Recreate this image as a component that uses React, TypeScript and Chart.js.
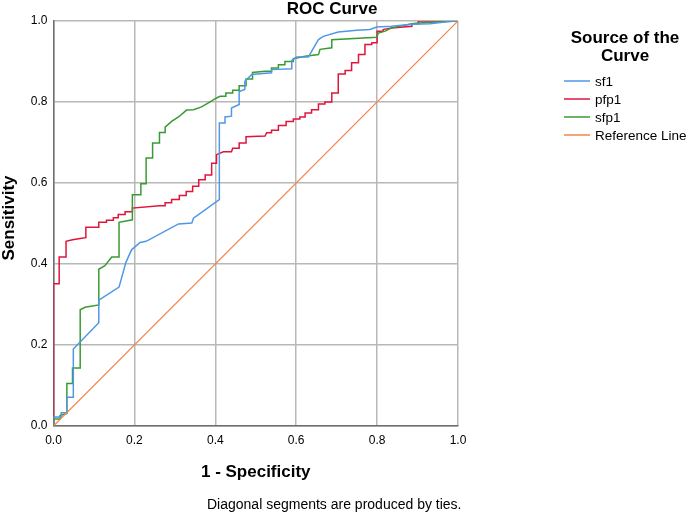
import React, { useEffect, useRef } from "react";
import { Chart, registerables } from "chart.js";

Chart.register(...registerables);

// ---- Data ----
const sf1X = [0, 0, 0.019, 0.019, 0.033, 0.033, 0.049, 0.049, 0.112, 0.112, 0.162, 0.179, 0.193, 0.214, 0.229, 0.309, 0.342, 0.346, 0.41, 0.41, 0.424, 0.424, 0.44, 0.44, 0.459, 0.459, 0.473, 0.473, 0.49, 0.539, 0.539, 0.589, 0.589, 0.601, 0.63, 0.638, 0.655, 0.667, 0.704, 0.75, 0.782, 0.799, 0.836, 0.886, 0.931, 0.988, 1];
const sf1Y = [0, 0.022, 0.022, 0.033, 0.033, 0.071, 0.071, 0.19, 0.255, 0.311, 0.343, 0.404, 0.435, 0.453, 0.456, 0.499, 0.501, 0.513, 0.559, 0.748, 0.748, 0.763, 0.765, 0.785, 0.794, 0.826, 0.831, 0.851, 0.868, 0.872, 0.88, 0.882, 0.903, 0.911, 0.911, 0.925, 0.954, 0.962, 0.973, 0.977, 0.979, 0.985, 0.987, 0.992, 0.993, 1, 1];

const pfp1X = [0, 0, 0.014, 0.014, 0.031, 0.031, 0.047, 0.066, 0.08, 0.08, 0.112, 0.112, 0.131, 0.131, 0.148, 0.148, 0.16, 0.16, 0.177, 0.177, 0.195, 0.195, 0.262, 0.276, 0.276, 0.292, 0.292, 0.311, 0.311, 0.328, 0.328, 0.344, 0.344, 0.359, 0.359, 0.375, 0.375, 0.391, 0.391, 0.403, 0.403, 0.42, 0.44, 0.443, 0.459, 0.459, 0.476, 0.476, 0.523, 0.527, 0.539, 0.539, 0.556, 0.556, 0.575, 0.575, 0.593, 0.593, 0.609, 0.609, 0.622, 0.622, 0.638, 0.638, 0.655, 0.655, 0.671, 0.671, 0.688, 0.688, 0.704, 0.704, 0.721, 0.721, 0.737, 0.737, 0.754, 0.754, 0.77, 0.77, 0.787, 0.787, 0.8, 0.8, 0.815, 0.815, 0.836, 0.886, 0.886, 0.902, 0.902, 1];
const pfp1Y = [0, 0.351, 0.351, 0.417, 0.417, 0.456, 0.46, 0.463, 0.465, 0.491, 0.491, 0.503, 0.503, 0.508, 0.508, 0.514, 0.514, 0.522, 0.522, 0.529, 0.529, 0.538, 0.544, 0.544, 0.551, 0.551, 0.559, 0.559, 0.569, 0.569, 0.579, 0.579, 0.592, 0.592, 0.608, 0.608, 0.62, 0.62, 0.649, 0.649, 0.67, 0.677, 0.677, 0.686, 0.686, 0.699, 0.699, 0.714, 0.716, 0.724, 0.724, 0.73, 0.73, 0.742, 0.742, 0.752, 0.752, 0.758, 0.758, 0.763, 0.763, 0.773, 0.773, 0.781, 0.781, 0.795, 0.795, 0.8, 0.8, 0.822, 0.822, 0.869, 0.869, 0.878, 0.878, 0.897, 0.897, 0.917, 0.917, 0.942, 0.942, 0.946, 0.946, 0.975, 0.975, 0.979, 0.983, 0.987, 0.993, 0.993, 1, 1];

const sfp1X = [0, 0, 0.016, 0.016, 0.033, 0.033, 0.047, 0.047, 0.066, 0.066, 0.078, 0.112, 0.112, 0.127, 0.144, 0.162, 0.162, 0.195, 0.195, 0.216, 0.216, 0.229, 0.229, 0.245, 0.245, 0.262, 0.262, 0.276, 0.276, 0.292, 0.309, 0.329, 0.346, 0.366, 0.383, 0.403, 0.412, 0.426, 0.426, 0.443, 0.443, 0.459, 0.459, 0.476, 0.476, 0.492, 0.492, 0.523, 0.539, 0.539, 0.556, 0.556, 0.572, 0.572, 0.593, 0.593, 0.622, 0.655, 0.659, 0.688, 0.688, 0.799, 0.803, 0.82, 0.836, 0.886, 0.902, 1];
const sfp1Y = [0, 0.017, 0.017, 0.026, 0.031, 0.105, 0.105, 0.143, 0.143, 0.287, 0.293, 0.299, 0.387, 0.396, 0.417, 0.417, 0.503, 0.509, 0.571, 0.571, 0.598, 0.598, 0.662, 0.662, 0.699, 0.699, 0.725, 0.725, 0.738, 0.752, 0.763, 0.78, 0.781, 0.788, 0.798, 0.81, 0.814, 0.814, 0.822, 0.822, 0.829, 0.829, 0.84, 0.84, 0.857, 0.857, 0.873, 0.876, 0.876, 0.884, 0.884, 0.892, 0.892, 0.9, 0.9, 0.907, 0.913, 0.917, 0.93, 0.934, 0.954, 0.96, 0.97, 0.975, 0.983, 0.993, 0.995, 1];

const refX = [0, 1];
const refY = [0, 1];

const seriesNames = ["sf1", "pfp1", "sfp1", "Reference Line"];
const seriesColors = ["#4f98e8", "#e0143c", "#3a9a32", "#f5844a"];
const axisTicks = [0, 0.2, 0.4, 0.6, 0.8, 1.0];

const chartTitle = "ROC Curve";
const xTitle = "1 - Specificity";
const yTitle = "Sensitivity";
const legendTitle = ["Source of the", "Curve"];
const footnote = "Diagonal segments are produced by ties.";

const FONT = "Arial, 'Liberation Sans', sans-serif";

const toPts = (xs: number[], ys: number[]) => xs.map((x, i) => ({ x, y: ys[i] }));

const textPlugin = {
  id: "textPlugin",
  afterDraw(chart: any) {
    const ctx = chart.ctx as CanvasRenderingContext2D;
    const area = chart.chartArea;
    ctx.save();
    ctx.fillStyle = "#000";
    // Title
    ctx.font = `bold 17px ${FONT}`;
    ctx.textAlign = "center";
    ctx.textBaseline = "alphabetic";
    ctx.fillText(chartTitle, 332, 14);
    // X title
    ctx.fillText(xTitle, (area.left + area.right) / 2, 477);
    // Y title
    ctx.save();
    ctx.translate(9, 218);
    ctx.rotate(-Math.PI / 2);
    ctx.textBaseline = "middle";
    ctx.fillText(yTitle, 0, 0);
    ctx.restore();
    // Footnote
    ctx.font = `14px ${FONT}`;
    ctx.textAlign = "left";
    ctx.fillText(footnote, 207, 509);
    // Legend
    ctx.font = `bold 17px ${FONT}`;
    ctx.textAlign = "center";
    ctx.fillText(legendTitle[0], 625, 43);
    ctx.fillText(legendTitle[1], 625, 61);
    ctx.font = `13.5px ${FONT}`;
    ctx.textAlign = "left";
    ctx.textBaseline = "middle";
    seriesNames.forEach((name, i) => {
      const y = 81 + i * 18;
      ctx.strokeStyle = seriesColors[i];
      ctx.lineWidth = 1.5;
      ctx.beginPath();
      ctx.moveTo(564, y);
      ctx.lineTo(590, y);
      ctx.stroke();
      ctx.fillStyle = "#000";
      ctx.fillText(name, 595, y + 1);
    });
    ctx.restore();
  },
};

export default function App() {
  const ref = useRef<HTMLCanvasElement | null>(null);
  useEffect(() => {
    if (!ref.current) return;
    const series = [
      toPts(sf1X, sf1Y),
      toPts(pfp1X, pfp1Y),
      toPts(sfp1X, sfp1Y),
      toPts(refX, refY),
    ];
    const order = [3, 0, 2, 1];
    const chart = new Chart(ref.current, {
      type: "scatter",
      data: {
        datasets: order.map((i) => ({
          label: seriesNames[i],
          data: series[i],
          showLine: true,
          borderColor: seriesColors[i],
          backgroundColor: seriesColors[i],
          borderWidth: i === 3 ? 1.2 : 1.5,
          pointRadius: 0,
          pointHoverRadius: 0,
          tension: 0,
        })),
      },
      options: {
        responsive: false,
        animation: false,
        events: [],
        layout: { padding: { top: 21, right: 229, left: 0, bottom: 0 } },
        plugins: {
          legend: { display: false },
          title: { display: false },
          tooltip: { enabled: false },
        },
        scales: {
          x: {
            type: "linear",
            min: 0,
            max: 1,
            afterBuildTicks: (s: any) => {
              s.ticks = axisTicks.map((v) => ({ value: v }));
            },
            afterFit: (s: any) => {
              s.height = 88;
            },
            ticks: {
              color: "#000",
              font: { family: FONT, size: 12 },
              padding: 7,
              maxRotation: 0,
              callback: (v: any) => Number(v).toFixed(1),
            },
            grid: { color: "#b8b8b8", lineWidth: 1.5, drawTicks: false },
            border: { color: "#6e6e6e", width: 1.5 },
          },
          y: {
            type: "linear",
            min: 0,
            max: 1,
            afterBuildTicks: (s: any) => {
              s.ticks = axisTicks.map((v) => ({ value: v }));
            },
            afterFit: (s: any) => {
              s.width = 53.5;
            },
            ticks: {
              color: "#000",
              font: { family: FONT, size: 12 },
              padding: 6,
              callback: (v: any) => Number(v).toFixed(1),
            },
            grid: { color: "#b8b8b8", lineWidth: 1.5, drawTicks: false },
            border: { color: "#6e6e6e", width: 1.5 },
          },
        },
      },
      plugins: [textPlugin],
    });
    return () => chart.destroy();
  }, []);
  return (
    <div style={{ position: "absolute", left: 0, top: 0, width: 687, height: 514, background: "#fff" }}>
      <canvas ref={ref} width={687} height={514} style={{ width: 687, height: 514 }} />
    </div>
  );
}
